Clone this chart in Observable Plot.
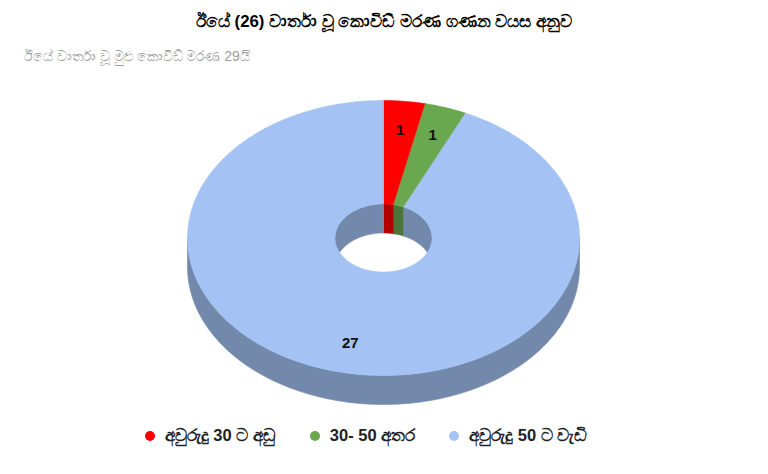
<!DOCTYPE html>
<html>
<head>
<meta charset="utf-8">
<script src="https://cdn.jsdelivr.net/npm/d3@7"></script>
<script src="https://cdn.jsdelivr.net/npm/@observablehq/plot@0.6"></script>
<style>
  html, body { margin: 0; padding: 0; background: #fff; }
  #wrap { position: relative; width: 768px; height: 474px; overflow: hidden;
          font-family: "Liberation Sans", Arial, "Noto Sans", sans-serif; }
  #wrap svg { position: absolute; left: 0; top: 0; }
  .title { position: absolute; left: 0; width: 768px; top: 12px; text-align: center;
           font-weight: bold; font-size: 16.8px; color: #000; }
  .subtitle { position: absolute; left: 24px; top: 48px; font-size: 14px; color: #9e9e9e; }
  .legend { position: absolute; left: 0; width: 732px; top: 426px; display: flex;
            justify-content: center; gap: 34px; font-size: 16.5px; font-weight: bold; color: #222; }
  .legend span.item { display: flex; align-items: center; }
  .legend i { display: inline-block; width: 10px; height: 10px; border-radius: 50%; margin-right: 10px; }
</style>
</head>
<body>
<div id="wrap">
  <div class="title">ඊයේ (26) වාර්තා වූ කොවිඩ් මරණ ගණන වයස අනුව</div>
  <div class="subtitle">ඊයේ වාර්තා වූ මුළු කොවිඩ් මරණ 29යි</div>
  <div class="legend" id="legend"></div>
</div>
<script>
// Deaths reported yesterday, by age group
const categories = ["අවුරුදු 30 ට අඩු", "30- 50 අතර", "අවුරුදු 50 ට වැඩි"];
const deaths = [1, 1, 27];
const topColors = ["#ff0000", "#6aa84f", "#a4c2f4"];
const wallColors = ["#b20000", "#4a7637", "#7289ab"];

// Ring shape (unit outer radius): hole size, vertical squash, extrusion depth
const inner = 0.2474;
const tilt = 0.7015;
const depth = 0.148;
const labelRadius = 0.787;

const slices = d3.pie().sort(null).startAngle(0).endAngle(2 * Math.PI)(deaths);

// angle is measured clockwise from 12 o'clock
const pt = (r, a, dy = 0) => ({x: r * Math.sin(a), y: r * Math.cos(a) * tilt - dy});
function arc(r, a0, a1, dy = 0) {
  const n = Math.max(2, Math.ceil(Math.abs(a1 - a0) / (Math.PI / 180)));
  return d3.range(n + 1).map(i => pt(r, a0 + (a1 - a0) * i / n, dy));
}
function clip(a0, a1, lo, hi) {
  const s = Math.max(a0, lo), e = Math.min(a1, hi);
  return s < e ? [s, e] : null;
}

const polys = [];
const add = (id, fill, pts) => pts.forEach(p => polys.push({id, fill, ...p}));

// front outer wall (lower half of the ellipse)
slices.forEach((s, i) => {
  const c = clip(s.startAngle, s.endAngle, Math.PI / 2, 3 * Math.PI / 2);
  if (c) add(`side-${i}`, wallColors[i], [...arc(1, c[0], c[1]), ...arc(1, c[1], c[0], depth)]);
});
// back inner wall seen through the hole (upper half)
slices.forEach((s, i) => {
  [[0, Math.PI / 2], [3 * Math.PI / 2, 2 * Math.PI]].forEach(([lo, hi], k) => {
    const c = clip(s.startAngle, s.endAngle, lo, hi);
    if (c) add(`hole-${i}-${k}`, wallColors[i], [...arc(inner, c[0], c[1]), ...arc(inner, c[1], c[0], depth)]);
  });
});
// top face
slices.forEach((s, i) => {
  add(`top-${i}`, topColors[i], [...arc(1, s.startAngle, s.endAngle), ...arc(inner, s.endAngle, s.startAngle)]);
});

const labels = slices.map((s, i) => {
  const m = (s.startAngle + s.endAngle) / 2;
  return {...pt(labelRadius, m), text: String(deaths[i])};
});

const cy = 237.5, rx = 196;
const chart = Plot.plot({
  width: 768,
  height: 474,
  margin: 0,
  x: {domain: [-1, 1], range: [383 - rx, 383 + rx], axis: null},
  y: {domain: [-1, 1], range: [cy + rx, cy - rx], axis: null},
  marks: [
    Plot.line(polys, {x: "x", y: "y", z: "id", fill: "fill", stroke: "fill", strokeWidth: 0.6, curve: "linear-closed"}),
    Plot.text(labels, {x: "x", y: "y", text: "text", fontSize: 15, fontWeight: "bold", fill: "#111",
                       fontFamily: "Liberation Sans, Arial, sans-serif"})
  ]
});
document.getElementById("wrap").prepend(chart);

const legend = document.getElementById("legend");
categories.forEach((c, i) => {
  const item = document.createElement("span");
  item.className = "item";
  item.innerHTML = `<i style="background:${topColors[i]}"></i>${c}`;
  legend.appendChild(item);
});
</script>
</body>
</html>
